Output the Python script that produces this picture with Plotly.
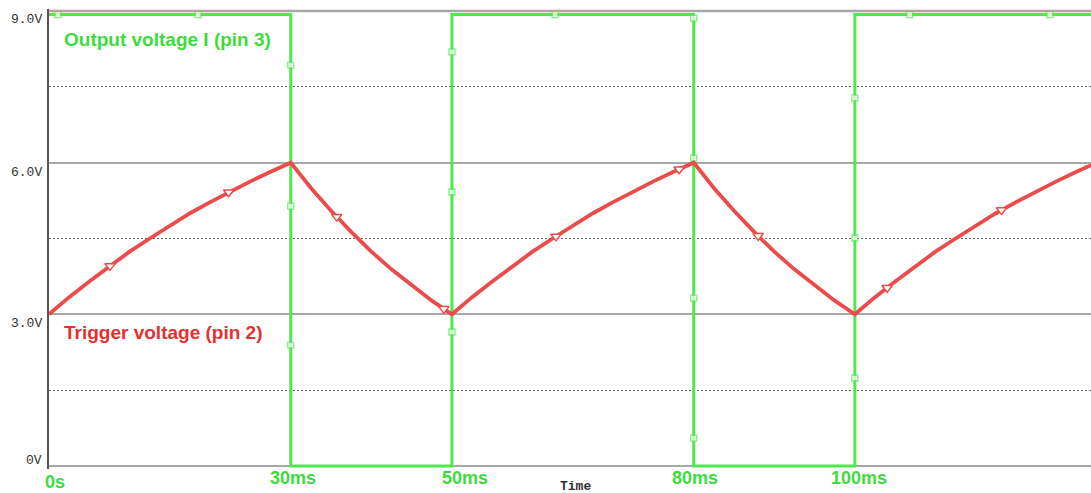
import numpy as np
import plotly.graph_objects as go

# ---------------- data ----------------
# Trigger voltage (pin 2), time in ms, volts
trigger_t = [0, 2.5, 5, 7.5, 10, 12.5, 15, 17.5, 20, 22.5, 25, 27.5, 30,
             32.5, 35, 37.5, 40, 42.5, 45, 47.5, 50,
             52.5, 55, 57.5, 60, 62.5, 65, 67.5, 70, 72.5, 75, 77.5, 80,
             82.5, 85, 87.5, 90, 92.5, 95, 97.5, 100,
             102.5, 105, 107.5, 110, 112.5, 115, 117.5, 120, 122.5, 125, 127.5, 130]
trigger_v = [3.00, 3.34, 3.65, 3.95, 4.24, 4.50, 4.76, 5.00, 5.22, 5.43, 5.63, 5.82, 6.00,
             5.50, 5.05, 4.63, 4.24, 3.89, 3.57, 3.27, 3.00,
             3.34, 3.65, 3.95, 4.24, 4.50, 4.76, 5.00, 5.22, 5.43, 5.63, 5.82, 6.00,
             5.50, 5.05, 4.63, 4.24, 3.89, 3.57, 3.27, 3.00,
             3.34, 3.65, 3.95, 4.24, 4.50, 4.76, 5.00, 5.22, 5.43, 5.63, 5.82, 6.00]
trigger_marker_t = [7.57, 22.3, 35.7, 49.0, 62.9, 78.2, 88.0, 104.0, 118.2]

# Output voltage (pin 3)
output_t = [0, 1.1, 18.5, 30, 30, 30, 30, 30, 50, 50, 50, 50, 50, 62.8,
            80, 80, 80, 80, 80, 80, 100, 100, 100, 100, 100, 106.8, 124.2, 130]
output_v = [8.93, 8.93, 8.93, 8.93, 7.93, 5.14, 2.39, 0.0, 0.0, 2.65, 5.42, 8.19, 8.93, 8.93,
            8.93, 8.86, 6.09, 3.32, 0.55, 0.0, 0.0, 1.74, 4.51, 7.28, 8.93, 8.93, 8.93, 8.93]
output_marked = [1, 2, 4, 5, 6, 9, 10, 11, 13, 15, 16, 17, 18, 21, 22, 23, 25, 26]

# axis labels
y_tick_vals = [9, 6, 3, 0]
y_tick_text = ["9.0V", "6.0V", "3.0V", "0V"]
x_label_vals = [0, 30, 50, 80, 100]
x_label_text = ["0s", "30ms", "50ms", "80ms", "100ms"]
series_names = ["Output voltage I (pin 3)", "Trigger voltage (pin 2)"]
x_title = "Time"

# ---------------- styling ----------------
GREEN = "#4fe84f"
GREEN_TXT = "#3ddc3d"
RED = "#ec4b4b"
RED_TXT = "#e63030"

fig = go.Figure()

out_sizes = [6 if i in output_marked else 0 for i in range(len(output_t))]
fig.add_trace(go.Scatter(
    x=output_t, y=output_v, mode="lines+markers",
    line=dict(color=GREEN, width=3),
    marker=dict(symbol="square", size=out_sizes, color="white",
                line=dict(color=GREEN, width=1.3)),
    showlegend=False, hoverinfo="skip"))

fig.add_trace(go.Scatter(
    x=trigger_t, y=trigger_v, mode="lines",
    line=dict(color=RED, width=3.8),
    showlegend=False, hoverinfo="skip"))

marker_v = np.interp(trigger_marker_t, trigger_t, trigger_v)
fig.add_trace(go.Scatter(
    x=trigger_marker_t, y=marker_v, mode="markers",
    marker=dict(symbol="triangle-down", size=9, color="white",
                line=dict(color=RED, width=1.5)),
    showlegend=False, hoverinfo="skip"))

# horizontal reference lines
fig.add_shape(type="line", xref="paper", x0=0, x1=1, yref="y", y0=0, y1=0,
              line=dict(color="#8a8a8a", width=1.5), layer="below")
fig.add_shape(type="line", xref="paper", x0=0, x1=1, yref="y", y0=9, y1=9,
              line=dict(color="#a8a8a8", width=2.5), layer="below")

annotations = []
y_shifts = [-8, -10, -9, 5]
for v, t, s in zip(y_tick_vals, y_tick_text, y_shifts):
    annotations.append(dict(x=0, xref="paper", y=v, yref="y", text=t,
                            xanchor="right", yanchor="middle", xshift=-5, yshift=s,
                            showarrow=False,
                            font=dict(family="Liberation Mono", size=13, color="#333333")))
x_shifts = [6, 2, 13, 1, 4]
x_yshifts = [-16, -12, -12, -12, -12]
for v, t, sx, sy in zip(x_label_vals, x_label_text, x_shifts, x_yshifts):
    annotations.append(dict(x=v, xref="x", y=0, yref="y", text="<b>%s</b>" % t,
                            xanchor="center", yanchor="middle", xshift=sx, yshift=sy,
                            showarrow=False,
                            font=dict(family="Liberation Sans", size=18, color=GREEN_TXT)))
annotations.append(dict(x=(575 - 49) / 1042, xref="paper", y=0, yref="y", text="<b>%s</b>" % x_title,
                        xanchor="center", yanchor="middle", yshift=-21, showarrow=False,
                        font=dict(family="Liberation Mono", size=13, color="#333333")))
annotations.append(dict(x=1.6, xref="x", y=8.43, yref="y", text="<b>%s</b>" % series_names[0],
                        xanchor="left", yanchor="middle", showarrow=False,
                        font=dict(family="Liberation Sans", size=19, color=GREEN_TXT)))
annotations.append(dict(x=1.6, xref="x", y=2.65, yref="y", text="<b>%s</b>" % series_names[1],
                        xanchor="left", yanchor="middle", showarrow=False,
                        font=dict(family="Liberation Sans", size=19, color=RED_TXT)))

fig.update_layout(
    width=1091, height=493,
    margin=dict(l=49, r=0, t=9, b=24),
    paper_bgcolor="white", plot_bgcolor="white",
    annotations=annotations,
    xaxis=dict(range=[0, 129.3], showgrid=False, zeroline=False, showline=False,
               showticklabels=False, ticks="", layer="below traces"),
    yaxis=dict(range=[-0.06, 9.04], tickvals=[3, 6], showticklabels=False, ticks="",
               showgrid=True, gridcolor="#a8a8a8", gridwidth=2, zeroline=False,
               showline=True, linecolor="#555555", linewidth=1.5, layer="below traces",
               minor=dict(tickvals=[1.5, 4.5, 7.5], showgrid=True, gridcolor="#666666",
                          gridwidth=1, griddash="2px,2px")),
)

# remove the default page margin so the figure fills the window exactly
fig.write_html("out.html",
               config={"displayModeBar": False},
               post_script="document.body.style.margin='0';"
                           "document.body.style.overflow='hidden';")
